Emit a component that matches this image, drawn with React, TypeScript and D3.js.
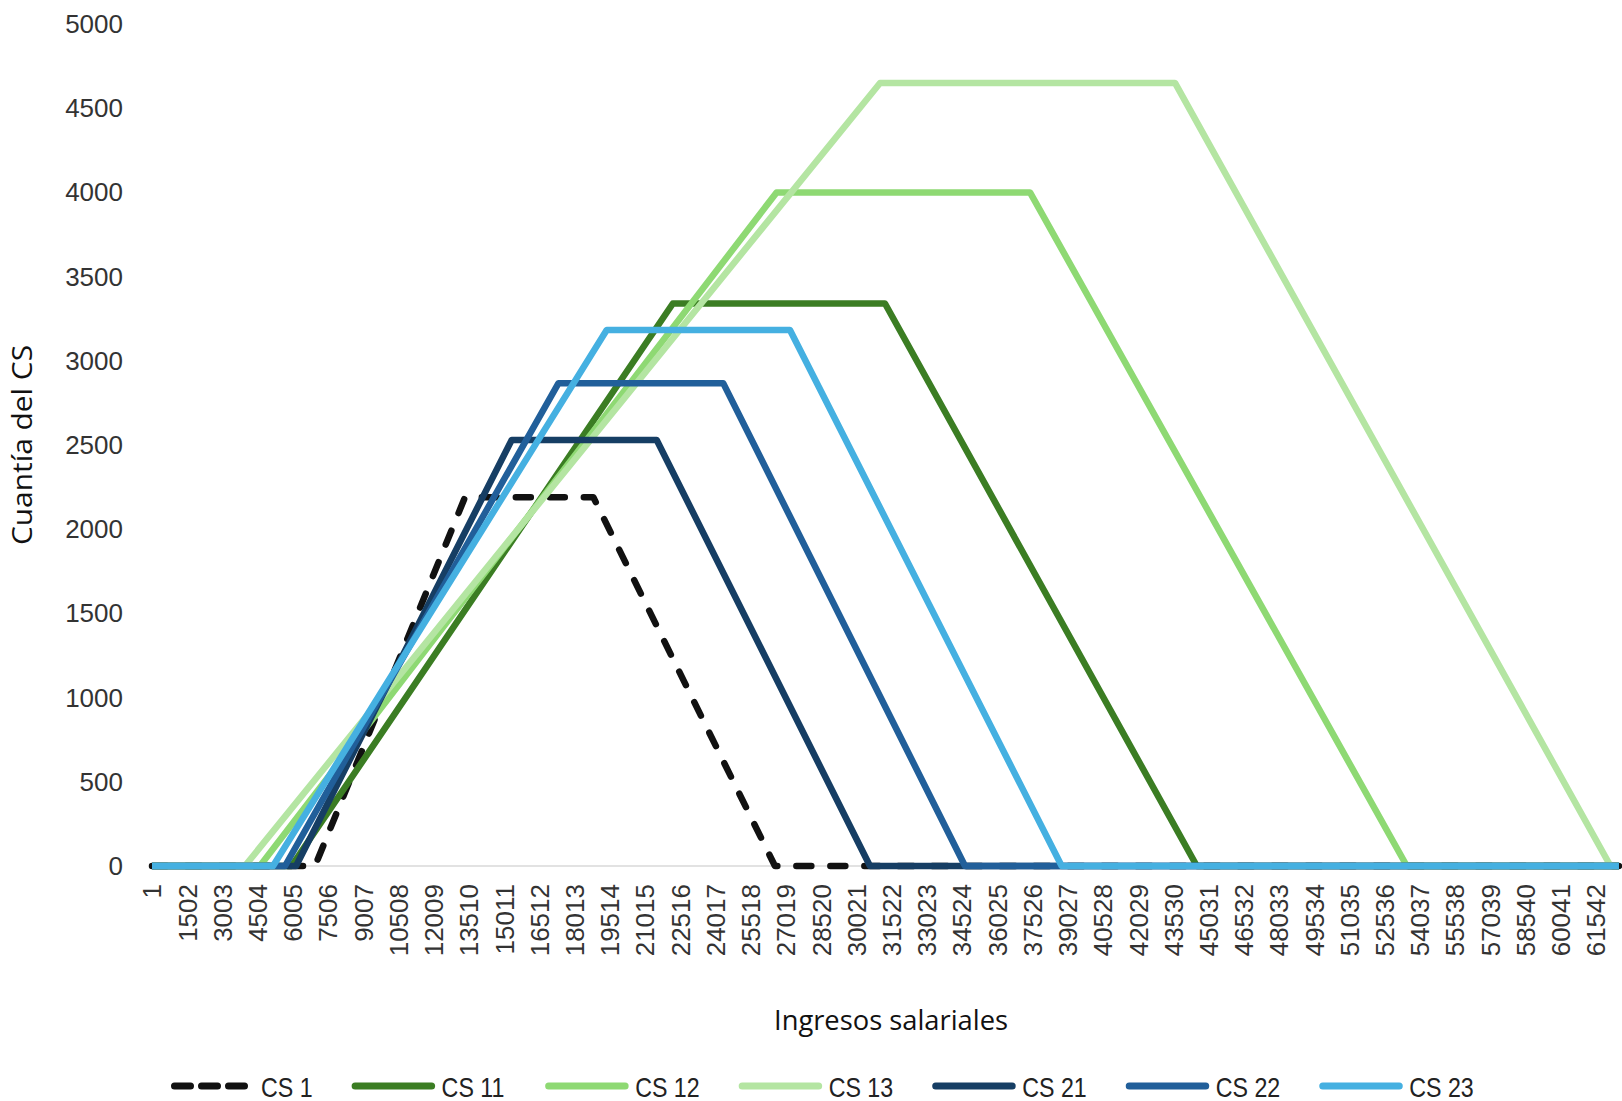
import React from "react";
import * as d3 from "d3";

const W = 1622;
const H = 1101;

const seriesNames = ["CS 1", "CS 11", "CS 12", "CS 13", "CS 21", "CS 22", "CS 23"];
const seriesColors = ["#111111", "#3B7D23", "#8ED973", "#B4E5A2", "#163E64", "#215F9A", "#45B0E1"];
const xEnd = 62521;

// breakpoints [ingreso, cuantía]
const cs1: [number, number][] = [[1, 0], [6950, 0], [13340, 2190], [18810, 2190], [26550, 0], [xEnd, 0]];
const cs11: [number, number][] = [[1, 0], [5950, 0], [22200, 3340], [31240, 3340], [44530, 0], [xEnd, 0]];
const cs12: [number, number][] = [[1, 0], [4600, 0], [26620, 4000], [37420, 4000], [53480, 0], [xEnd, 0]];
const cs13: [number, number][] = [[1, 0], [3960, 0], [31030, 4650], [43600, 4650], [62160, 0], [xEnd, 0]];
const cs21: [number, number][] = [[1, 0], [6140, 0], [15330, 2530], [21510, 2530], [30600, 0], [xEnd, 0]];
const cs22: [number, number][] = [[1, 0], [5670, 0], [17320, 2866], [24350, 2866], [34650, 0], [xEnd, 0]];
const cs23: [number, number][] = [[1, 0], [5160, 0], [19380, 3183], [27190, 3183], [38770, 0], [xEnd, 0]];
const seriesData = [cs1, cs11, cs12, cs13, cs21, cs22, cs23];

const xTickValues = d3.range(42).map((i) => 1 + i * 1501);
const yTickValues = d3.range(0, 5001, 500);

const charW: Record<string, number> = { C: 0.722, S: 0.667, " ": 0.278 };
const legendFont = 27;
const legendScaleX = 0.86;
function textW(s: string) {
  let w = 0;
  for (const c of s) w += charW[c] ?? 0.556;
  return w * legendFont * legendScaleX;
}

export default function App() {
  const x = d3.scaleLinear().domain([1, 61542]).range([152, 1596]);
  const y = d3.scaleLinear().domain([0, 5000]).range([866, 24]);
  const line = d3
    .line<[number, number]>()
    .x((d) => x(d[0]))
    .y((d) => y(d[1]));

  const legendItems: { name: string; color: string; lx: number; tx: number; i: number }[] = [];
  let cur = 171;
  seriesNames.forEach((name, i) => {
    const lx = cur;
    const tx = lx + 90;
    legendItems.push({ name, color: seriesColors[i], lx, tx, i });
    cur = tx + textW(name) + 39;
  });

  const font = "'Liberation Sans', Arial, sans-serif";

  return (
    <svg
      width={W}
      height={H}
      style={{ position: "absolute", left: 0, top: 0, display: "block", background: "#fff" }}
    >
      <rect x={0} y={0} width={W} height={H} fill="#ffffff" />
      <line x1={x(1) - 2} x2={x(xEnd)} y1={y(0)} y2={y(0)} stroke="#d9d9d9" strokeWidth={1.5} />

      {yTickValues.map((v) => (
        <text
          key={"y" + v}
          x={123}
          y={y(v)}
          textAnchor="end"
          dominantBaseline="central"
          fontFamily={font}
          fontSize={26}
          fill="#333"
        >
          {v}
        </text>
      ))}

      {xTickValues.map((v) => (
        <text
          key={"x" + v}
          transform={`translate(${x(v)},884) rotate(-90)`}
          dy="0.36em"
          textAnchor="end"
          fontFamily={font}
          fontSize={26}
          fill="#333"
        >
          {v}
        </text>
      ))}

      {seriesData.map((d, i) => (
        <path
          key={seriesNames[i]}
          d={line(d) || ""}
          fill="none"
          stroke={seriesColors[i]}
          strokeWidth={6.5}
          strokeLinejoin="round"
          strokeLinecap={i === 0 ? "round" : "butt"}
          strokeDasharray={i === 0 ? "15 19" : undefined}
        />
      ))}

      <text
        transform="translate(32,445) rotate(-90)"
        textAnchor="middle"
        fontFamily="'Open Sans', sans-serif"
        fontSize={27}
        textLength={200}
        lengthAdjust="spacingAndGlyphs"
        fill="#111"
      >
        Cuantía del CS
      </text>
      <text
        x={891}
        y={1030}
        textAnchor="middle"
        fontFamily="'Open Sans', sans-serif"
        fontSize={27}
        textLength={234}
        lengthAdjust="spacingAndGlyphs"
        fill="#111"
      >
        Ingresos salariales
      </text>

      {legendItems.map((it) => (
        <g key={"lg" + it.name}>
          <line
            x1={it.lx + 3.5}
            x2={it.lx + 80}
            y1={1086}
            y2={1086}
            stroke={it.color}
            strokeWidth={7}
            strokeLinecap="round"
            strokeDasharray={it.i === 0 ? "16 11" : undefined}
          />
          <text
            transform={`translate(${it.tx},1097) scale(${legendScaleX},1)`}
            fontFamily={font}
            fontSize={legendFont}
            fill="#222"
          >
            {it.name}
          </text>
        </g>
      ))}
    </svg>
  );
}
